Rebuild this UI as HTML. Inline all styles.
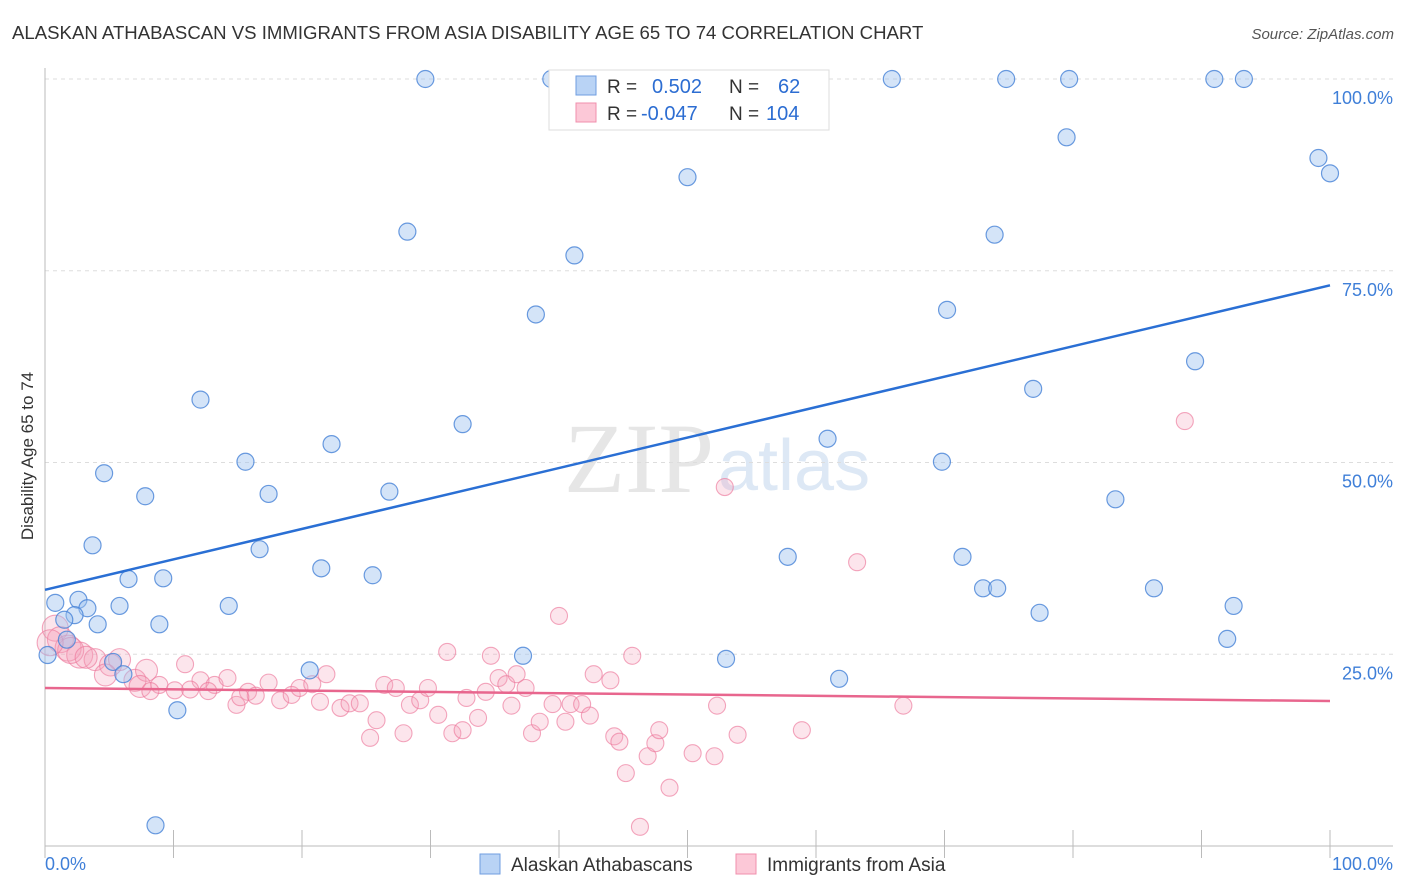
<!DOCTYPE html>
<html><head><meta charset="utf-8"><style>
body{margin:0;background:#fff;font-family:"Liberation Sans",sans-serif;}
#wrap{position:relative;width:1406px;height:892px;overflow:hidden}
</style></head><body>
<div id="wrap">
<svg id="chart" width="1406" height="892" xmlns="http://www.w3.org/2000/svg">
<text x="12" y="39" font-size="18.6" fill="#333">ALASKAN ATHABASCAN VS IMMIGRANTS FROM ASIA DISABILITY AGE 65 TO 74 CORRELATION CHART</text>
<text x="1394" y="39" font-size="15" fill="#555" font-style="italic" text-anchor="end">Source: ZipAtlas.com</text>
<text x="33" y="456" font-size="17" fill="#333" text-anchor="middle" transform="rotate(-90 33 456)">Disability Age 65 to 74</text>
<text x="714" y="492" font-size="100" fill="#e6e6e6" font-family="Liberation Serif,serif" text-anchor="end">ZIP</text>
<text x="718" y="490" font-size="72" fill="#dde8f5">atlas</text>
<g id="grid"></g><g id="axes"></g><g id="pinkpts"></g><g id="bluepts"></g><g id="lines"></g>
<g>
<rect x="549" y="70" width="280" height="60" fill="#fff" stroke="#ddd"/>
<rect x="576" y="76" width="20" height="19" fill="#b9d3f5" stroke="#6f9ee0"/>
<rect x="576" y="103" width="20" height="19" fill="#fcc8d7" stroke="#f08fac"/>
<text x="607" y="93" font-size="19" fill="#333">R = </text><text x="652" y="93" font-size="20" fill="#2c6dd2">0.502</text>
<text x="729" y="93" font-size="19" fill="#333">N = </text><text x="778" y="93" font-size="20" fill="#2c6dd2">62</text>
<text x="607" y="120" font-size="19" fill="#333">R = </text><text x="641" y="120" font-size="20" fill="#2c6dd2">-0.047</text>
<text x="729" y="120" font-size="19" fill="#333">N = </text><text x="766" y="120" font-size="20" fill="#2c6dd2">104</text>
</g>
<g>
<rect x="480" y="854" width="20" height="20" fill="#b9d3f5" stroke="#6f9ee0"/>
<text x="511" y="871" font-size="19" fill="#333">Alaskan Athabascans</text>
<rect x="736" y="854" width="20" height="20" fill="#fcc8d7" stroke="#f08fac"/>
<text x="767" y="871" font-size="19" fill="#333">Immigrants from Asia</text>
</g>
<text x="45" y="870" font-size="18" fill="#3f7fd8">0.0%</text>
<text x="1393" y="870" font-size="18" fill="#3f7fd8" text-anchor="end">100.0%</text>
</svg>
</div>
<script>
const yTicks=[25,50,75,100];
const yTickLabels=["25.0%","50.0%","75.0%","100.0%"];
const xTicks=[0,10,20,30,40,50,60,70,80,90,100];
const blueX=[29.6,39.4,65.9,74.8,79.7,91.0,93.3,79.5,99.1,100,50.0,28.2,73.9,41.2,38.2,70.2,89.5,76.9,12.1,32.5,22.3,60.9,15.6,69.8,4.6,7.8,17.4,26.8,83.3,3.7,16.7,57.8,71.4,21.5,25.5,6.5,9.2,73.0,74.1,86.3,0.8,2.6,3.3,5.8,14.3,2.3,1.5,92.5,77.4,4.1,8.9,1.7,92.0,0.2,5.3,37.2,53.0,20.6,6.1,61.8,10.3,8.6];
const blueY=[100,100,100,100,100,100,100,92.4,89.7,87.7,87.2,80.1,79.7,77.0,69.3,69.9,63.2,59.6,58.2,55.0,52.4,53.1,50.1,50.1,48.6,45.6,45.9,46.2,45.2,39.2,38.7,37.7,37.7,36.2,35.3,34.8,34.9,33.6,33.6,33.6,31.7,32.1,31.0,31.3,31.3,30.1,29.5,31.3,30.4,28.9,28.9,26.9,27.0,24.9,24.0,24.8,24.4,22.9,22.4,21.8,17.7,2.7];
const pinkX=[88.7,52.9,63.2,40.0,31.3,34.7,45.7,0.8,1.2,1.8,2.7,3.9,5.1,5.8,4.7,7.0,7.9,8.9,10.1,10.9,12.1,13.2,14.2,14.9,15.8,16.4,17.4,18.3,19.2,19.8,20.8,21.4,21.9,23.0,23.7,24.5,25.3,25.8,26.4,27.3,27.9,28.4,29.2,29.8,30.6,31.7,32.5,32.8,33.7,34.3,35.3,35.9,36.3,36.7,37.4,37.9,38.5,39.5,40.5,40.9,41.8,42.4,42.7,44.0,44.3,44.7,45.2,46.3,46.9,47.5,47.8,48.6,50.4,52.1,52.3,53.9,58.9,66.8,7.4,8.2,11.3,12.7,15.2,2.0,3.2,0.4];
const pinkY=[55.4,46.8,37.0,30.0,25.3,24.8,24.8,28.4,26.9,25.8,24.9,24.3,23.6,24.3,22.3,21.6,22.9,21.0,20.3,23.7,21.6,21.0,21.9,18.4,20.1,19.6,21.3,19.0,19.7,20.6,21.1,18.8,22.4,18.0,18.6,18.6,14.1,16.4,21.0,20.6,14.7,18.4,19.0,20.6,17.1,14.7,15.1,19.3,16.7,20.1,21.9,21.1,18.3,22.4,20.6,14.7,16.2,18.5,16.2,18.5,18.5,17.0,22.4,21.6,14.3,13.6,9.5,2.5,11.7,13.4,15.1,7.6,12.1,11.7,18.3,14.5,15.1,18.3,20.8,20.2,20.4,20.2,19.4,25.5,24.6,26.5];
const blueFit=[33.4,73.1];
const pinkFit=[20.6,18.9];
const X0=45,X1=1330,Y0=846,Y100=79;
function sx(v){return X0+(X1-X0)*v/100;}
function sy(v){return Y0-(Y0-Y100)*v/100;}
const NS="http://www.w3.org/2000/svg";
function mk(t,a,p){const e=document.createElementNS(NS,t);for(const k in a)e.setAttribute(k,a[k]);p.appendChild(e);return e;}
const grid=document.getElementById('grid'),axes=document.getElementById('axes');
yTicks.forEach((t,i)=>{
 const l=mk('line',{x1:45,x2:1393,y1:sy(t),y2:sy(t),stroke:'#ddd','stroke-dasharray':'4,4'},grid);
 
 
 const tx=mk('text',{x:1393,y:sy(t)+25,'font-size':18,fill:'#3f7fd8','text-anchor':'end'},axes);
 tx.textContent=yTickLabels[i];
 
 
});
const ya=mk('line',{x1:45,x2:45,y1:68,y2:846,stroke:'#bbb'},axes);


const xa=mk('line',{x1:45,x2:1393,y1:846,y2:846,stroke:'#bbb'},axes);


xTicks.forEach(t=>{
 const l=mk('line',{x1:sx(t),x2:sx(t),y1:830,y2:858,stroke:'#bbb'},axes);
 
 
});
const pg=document.getElementById('pinkpts');
pinkX.forEach((x,i)=>{
 const r=x<3?13:(x<8?11:8.5);
 const c=mk('circle',{cx:sx(x),cy:sy(pinkY[i]),r:r,fill:'rgba(246,160,186,0.28)',stroke:'rgba(236,120,155,0.65)','stroke-width':1.1},pg);
 
 
});
const bg=document.getElementById('bluepts');
blueX.forEach((x,i)=>{
 const c=mk('circle',{cx:sx(x),cy:sy(blueY[i]),r:8.5,fill:'rgba(160,195,240,0.45)',stroke:'rgba(70,130,215,0.8)','stroke-width':1.2},bg);
 
 
});
const lg=document.getElementById('lines');
const bl=mk('line',{x1:sx(0),x2:sx(100),y1:sy(blueFit[0]),y2:sy(blueFit[1]),stroke:'#2a6fd4','stroke-width':2.5},lg);


const pl=mk('line',{x1:sx(0),x2:sx(100),y1:sy(pinkFit[0]),y2:sy(pinkFit[1]),stroke:'#e8668e','stroke-width':2.5},lg);


</script>
</body></html>
